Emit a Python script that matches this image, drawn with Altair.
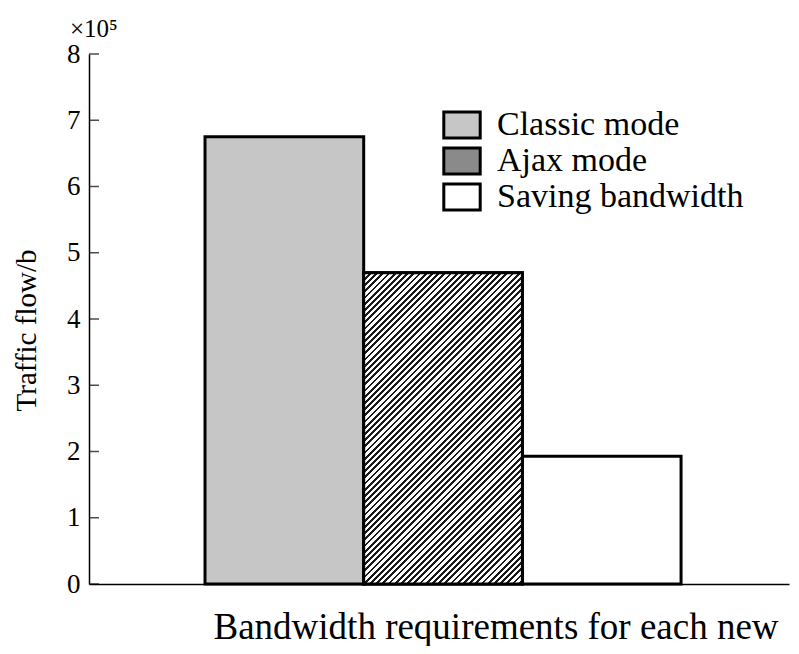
import altair as alt
import pandas as pd

# ---- data ----
categories = ["Classic mode", "Ajax mode", "Saving bandwidth"]
values = [6.75, 4.70, 1.93]          # x 10^5 b
y_ticks = [0, 1, 2, 3, 4, 5, 6, 7, 8]
fills = ["#c6c6c6", "#8a8a8a", "#ffffff"]

# ---- layout / style ----
W, H = 700, 530
Y_MAX = 8
PAD_OUTER = 0.7057
ALIGN = 0.518
FONT = "Liberation Serif"

df = pd.DataFrame({"mode": categories, "flow": values})
ticks_df = pd.DataFrame({"t": y_ticks})

# diagonal hatch for the Ajax bar, built as a striped linear gradient
band = W / (len(categories) + 2 * PAD_OUTER)
ajax_h = values[1] / Y_MAX * H
period_px = 6.2
den = band ** 2 + ajax_h ** 2
dt = period_px * band / den
tmax = min(1.0, (band + ajax_h) * band / den + dt)
stops = []
k = 0
while k * dt < tmax:
    a = round(k * dt, 6)
    b = round(k * dt + 0.45 * dt, 6)
    c = round((k + 1) * dt, 6)
    if c > 1:
        break
    stops += [
        alt.GradientStop(offset=a, color="#1a1a1a"),
        alt.GradientStop(offset=b, color="#1a1a1a"),
        alt.GradientStop(offset=b, color="#ffffff"),
        alt.GradientStop(offset=c, color="#ffffff"),
    ]
    k += 1
hatch = alt.LinearGradient(gradient="linear", stops=stops, x1=0, y1=0, x2=1, y2=ajax_h / band)

x_scale = alt.Scale(domain=categories, paddingInner=0, paddingOuter=PAD_OUTER, align=ALIGN)
x_axis = alt.Axis(
    labels=False, ticks=False, domain=True, domainColor="black", domainWidth=1.5,
    title="Bandwidth requirements for each new",
    titleFont=FONT, titleFontSize=37, titleFontWeight="normal", titleColor="black",
    titleAlign="left", titleAnchor="start", titleX=124, titleY=54, titleBaseline="alphabetic",
)
y_scale = alt.Scale(domain=[0, Y_MAX], nice=False)
y_axis = alt.Axis(
    values=y_ticks, format="d", ticks=False, grid=False, domainColor="black", domainWidth=1.5,
    labelFont=FONT, labelFontSize=27, labelColor="black", labelPadding=9,
    title="Traffic flow/b", titleFont=FONT, titleFontSize=29, titleFontWeight="normal",
    titleColor="black", titleAngle=270, titleX=-63, titleY=276,
    titleAlign="center", titleBaseline="middle",
)

x_enc = alt.X("mode:N", sort=categories, scale=x_scale, axis=x_axis)
y_enc = alt.Y("flow:Q", scale=y_scale, axis=y_axis)

bars = alt.Chart(df).mark_bar(stroke="black", strokeWidth=3).encode(
    x=x_enc,
    y=y_enc,
    color=alt.Color(
        "mode:N",
        scale=alt.Scale(domain=categories, range=fills),
        legend=alt.Legend(
            orient="none", legendX=356, legendY=54, title=None,
            symbolType="M-1.4,-1H1.4V1H-1.4Z", symbolSize=676,
            symbolStrokeColor="black", symbolStrokeWidth=3, symbolOpacity=1,
            labelFont=FONT, labelFontSize=34, labelColor="black",
            labelOffset=18, rowPadding=-2, padding=0, labelLimit=400,
        ),
    ),
)

ajax = alt.Chart(df).transform_filter(alt.datum.mode == "Ajax mode").mark_bar(
    fill=hatch, stroke="black", strokeWidth=3
).encode(x=x_enc, y=y_enc)

ticks = alt.Chart(ticks_df).mark_tick(size=10, thickness=1.5, color="black").encode(
    y=alt.Y("t:Q", scale=y_scale, axis=y_axis), x=alt.value(5)
)

chart = alt.layer(bars, ajax, ticks).properties(
    width=W,
    height=H,
    padding={"left": 81, "top": 46, "right": 2, "bottom": 62},
    autosize=alt.AutoSizeParams(type="none"),
    title=alt.TitleParams(
        "×10⁵", font=FONT, fontSize=25, fontWeight="normal", color="black",
        anchor="start", frame="group", dx=-19, dy=4, offset=2,
    ),
).configure_view(stroke=None)

chart.save("out.html", embed_options={"renderer": "svg", "actions": False})
